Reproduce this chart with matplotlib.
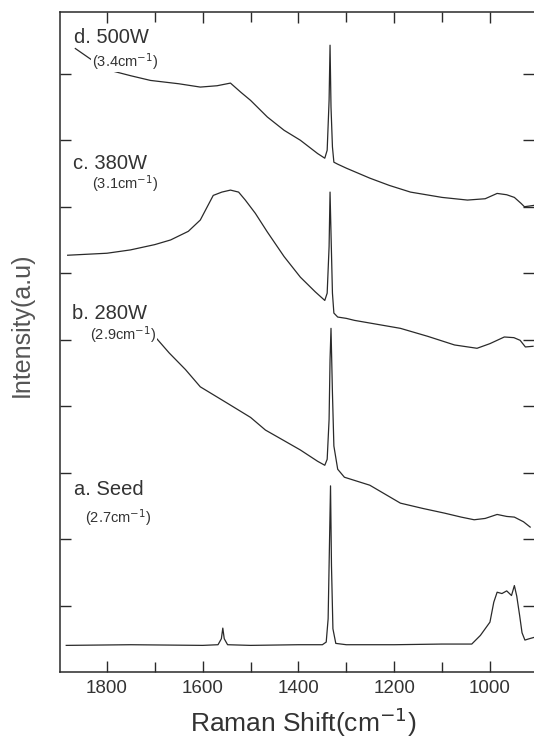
import numpy as np
import matplotlib
matplotlib.use('Agg')
import matplotlib.pyplot as plt

plt.rcParams['font.family'] = ['Liberation Sans', 'DejaVu Sans']
plt.rcParams['mathtext.fontset'] = 'custom'
plt.rcParams['mathtext.rm'] = 'Liberation Sans'
plt.rcParams['mathtext.it'] = 'Liberation Sans'

# 光谱数据（从图中读取，强度为任意单位，已叠加偏移）
# a. Seed
seed_x = [1885, 1750, 1600, 1568, 1561, 1558, 1555, 1548, 1500, 1400, 1350, 1342,
          1338, 1335, 1333, 1331, 1328, 1322, 1300, 1200, 1100, 1038, 1020, 1000,
          992, 985, 975, 965, 955, 949, 944, 938, 933, 927, 918, 908]
seed_y = [0.40, 0.41, 0.40, 0.41, 0.50, 0.66, 0.50, 0.41, 0.40, 0.41, 0.41, 0.45,
          0.80, 2.00, 2.80, 1.60, 0.65, 0.43, 0.41, 0.41, 0.42, 0.42, 0.55, 0.75,
          1.05, 1.20, 1.18, 1.22, 1.15, 1.30, 1.14, 0.85, 0.59, 0.48, 0.50, 0.52]

# b. 280W
b_x = [1699, 1670, 1636, 1605, 1550, 1500, 1469, 1430, 1396, 1360, 1345, 1340,
       1336, 1334, 1332, 1329, 1326, 1318, 1304, 1251, 1187, 1140, 1095, 1060,
       1033, 1010, 985, 965, 949, 930, 916]
b_y = [5.04, 4.80, 4.55, 4.29, 4.05, 3.83, 3.64, 3.48, 3.34, 3.17, 3.11, 3.20,
       3.80, 4.70, 5.17, 4.20, 3.40, 3.05, 2.93, 2.81, 2.54, 2.46, 2.39, 2.33,
       2.29, 2.31, 2.37, 2.34, 2.33, 2.26, 2.18]

# c. 380W
c_x = [1882, 1800, 1751, 1700, 1667, 1630, 1605, 1578, 1560, 1542, 1525, 1511,
       1490, 1465, 1430, 1396, 1365, 1345, 1340, 1336, 1334, 1332, 1329, 1326,
       1318, 1300, 1283, 1251, 1187, 1130, 1074, 1027, 1000, 970, 950, 937, 926, 910]
c_y = [6.27, 6.30, 6.35, 6.43, 6.50, 6.63, 6.80, 7.17, 7.22, 7.25, 7.22, 7.10,
       6.90, 6.62, 6.25, 5.94, 5.72, 5.59, 5.70, 6.40, 7.22, 6.60, 5.70, 5.40,
       5.34, 5.32, 5.29, 5.25, 5.17, 5.05, 4.92, 4.87, 4.94, 5.04, 5.03, 4.99, 4.89, 4.90]

# d. 500W
d_x = [1866, 1830, 1793, 1750, 1709, 1650, 1605, 1570, 1542, 1520, 1500, 1465,
       1430, 1396, 1360, 1345, 1340, 1336, 1334, 1332, 1329, 1326, 1318, 1300,
       1251, 1210, 1166, 1100, 1047, 1010, 985, 965, 949, 935, 928, 908]
d_y = [9.38, 9.20, 9.05, 8.97, 8.90, 8.85, 8.80, 8.82, 8.86, 8.72, 8.60, 8.35,
       8.15, 8.00, 7.80, 7.73, 7.85, 8.60, 9.43, 8.50, 7.90, 7.67, 7.64, 7.58,
       7.43, 7.32, 7.22, 7.14, 7.10, 7.12, 7.20, 7.18, 7.14, 7.05, 7.00, 7.02]

spectra = [(seed_x, seed_y), (b_x, b_y), (c_x, c_y), (d_x, d_y)]

# 标签文字及位置 (x: cm^-1, y: 强度)
labels = ['a. Seed', 'b. 280W', 'c. 380W', 'd. 500W']
widths = [r'(2.7cm$^{\mathsf{-1}}$)', r'(2.9cm$^{\mathsf{-1}}$)',
          r'(3.1cm$^{\mathsf{-1}}$)', r'(3.4cm$^{\mathsf{-1}}$)']
label_pos = [(1869, 2.74), (1873, 5.40), (1871, 7.65), (1869, 9.55)]
width_pos = [(1846, 2.33), (1835, 5.07), (1831, 7.35), (1831, 9.19)]

line_color = '#2a2a2a'
text_color = '#333333'

fig = plt.figure(figsize=(5.34, 7.39), dpi=100)
ax = fig.add_axes([0.1124, 0.0907, 0.8876, 0.8931])

for x, y in spectra:
    ax.plot(x, y, color=line_color, linewidth=0.9)

for txt, (px, py) in zip(labels, label_pos):
    ax.text(px, py, txt, fontsize=14.5, color=text_color, va='center', ha='left')
for txt, (px, py) in zip(widths, width_pos):
    ax.text(px, py, txt, fontsize=10.5, color=text_color, va='center', ha='left',
            bbox=dict(facecolor='white', edgecolor='none', pad=0.5))

ax.set_xlim(1898, 908)
ax.set_ylim(0, 9.93)
ax.set_xticks([1800, 1600, 1400, 1200, 1000])
ax.set_xticks([1700, 1500, 1300, 1100], minor=True)
ax.set_yticks(np.arange(1, 10))
ax.set_yticklabels([])
ax.tick_params(axis='both', which='both', direction='in', top=True, right=True,
               color=line_color)
ax.tick_params(axis='x', which='major', length=8, width=1.0, labelsize=13.5,
               labelcolor=text_color, pad=6)
ax.tick_params(axis='x', which='minor', length=7, width=1.0)
ax.tick_params(axis='y', which='major', length=8, width=1.0)
ax.spines['right'].set_visible(False)
for s in ['left', 'bottom', 'top']:
    ax.spines[s].set_color(line_color)
    ax.spines[s].set_linewidth(1.1)

# 轴标题
fig.text(0.568, 1 - 732 / 739, r'Raman Shift(cm$^{\mathsf{-1}}$)', fontsize=19,
         color=text_color, ha='center', va='baseline')
fig.text(0.040, 1 - 325 / 739, 'Intensity(a.u)', fontsize=18, color='#555555',
         ha='center', va='center', rotation=90)

fig.savefig('out.png', dpi=100)
